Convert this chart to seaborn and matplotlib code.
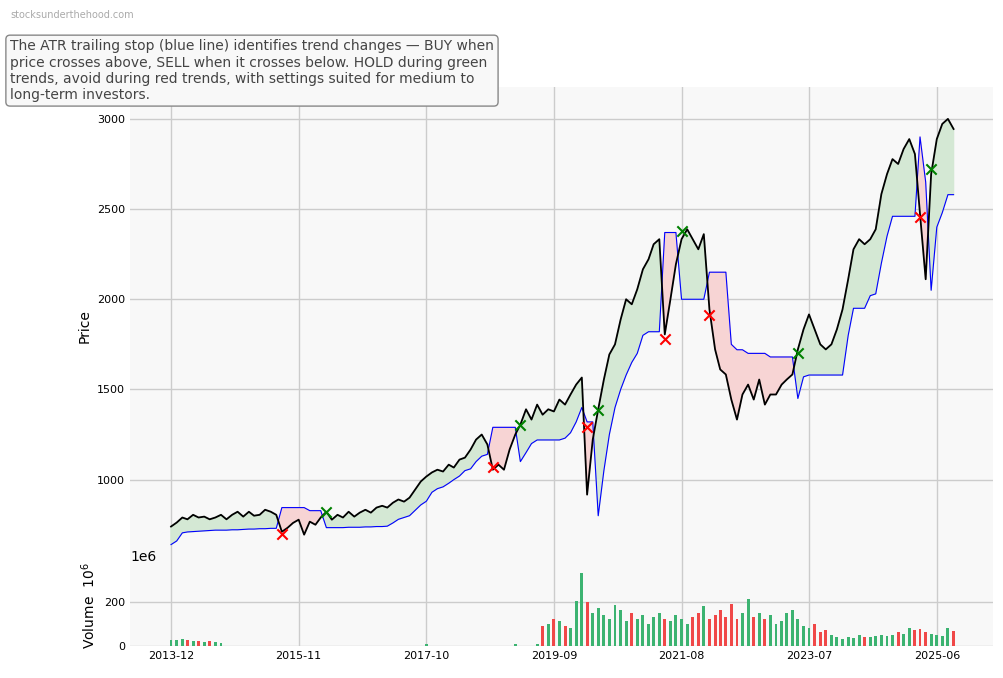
import numpy as np
import pandas as pd
import matplotlib
matplotlib.use("Agg")
import matplotlib.pyplot as plt
import seaborn as sns

start_month = "2013-12-01"
price = [740,762,790,780,805,790,795,780,790,805,780,805,822,795,822,800,805,833,822,805,
         711,733,760,778,695,767,750,790,822,778,805,790,822,795,817,833,817,845,855,845,
         872,890,878,900,945,990,1017,1040,1055,1045,1083,1067,1111,1122,1167,1222,1250,1195,1055,1083,
         1055,1167,1250,1305,1390,1333,1416,1360,1390,1378,1444,1416,1472,1527,1566,917,1222,1390,1555,1694,
         1750,1888,2000,1972,2055,2166,2222,2305,2333,1805,2000,2194,2333,2388,2333,2277,2361,1944,1722,1611,
         1583,1444,1333,1472,1527,1444,1555,1416,1472,1472,1527,1555,1583,1722,1833,1916,1833,1750,1722,1750,
         1833,1944,2111,2277,2333,2305,2333,2388,2583,2694,2777,2750,2833,2888,2805,2472,2111,2694,2888,2972,
         3000,2944]
stop = [640,660,705,710,712,714,716,718,720,720,720,722,722,724,726,726,728,728,730,730,
        845,845,845,845,845,828,828,828,734,734,734,734,736,736,736,738,738,740,740,742,
        760,780,790,800,830,860,880,930,950,960,980,1000,1020,1050,1060,1100,1130,1140,1290,1290,
        1290,1290,1290,1100,1150,1200,1220,1220,1220,1220,1220,1230,1260,1320,1400,1320,1320,800,1050,1250,
        1400,1500,1580,1650,1700,1800,1820,1820,1820,2370,2370,2370,2000,2000,2000,2000,2000,2150,2150,2150,
        2150,1750,1720,1720,1700,1700,1700,1700,1680,1680,1680,1680,1680,1450,1570,1580,1580,1580,1580,1580,
        1580,1580,1800,1950,1950,1950,2020,2030,2200,2350,2460,2460,2460,2460,2460,2900,2650,2050,2400,2480,
        2580,2580]
volume_m = [25,28,30,25,22,20,18,20,15,10] + [0]*36 + [6] + [0]*15 + [6,0,0,0,8] + \
    [90,100,120,110,90,80,205,330,200,150,170,140,120,185,160,110,150,120,140,100,
     130,150,120,110,140,120,100,130,150,180,120,140,160,130,190,120,150,210,130,150,
     120,140,100,110,150,160,120,90,80,100,60,70,50,40,30,40,35,50,40,40,
     45,50,45,50,60,55,80,70,75,60,55,50,45,80,65]
sell_idx = [20, 58, 75, 89, 97, 135]
sell_val = [700, 1070, 1290, 1780, 1910, 2455]
buy_idx = [28, 63, 77, 92, 113, 137]
buy_val = [822, 1305, 1385, 2380, 1700, 2720]
tick_labels = ["2013-12", "2015-11", "2017-10", "2019-09", "2021-08", "2023-07", "2025-06"]

n = len(price)
dates = pd.date_range(start_month, periods=n, freq="MS")
df = pd.DataFrame({"date": dates, "price": price, "stop": stop, "vol": np.array(volume_m[:n]) * 1e6})

fig = plt.figure(figsize=(10.04, 6.78), dpi=100)
bg = "#f8f8f8"
ax = fig.add_axes([0.1295, 0.167, 0.8595, 0.705])
axv = fig.add_axes([0.1295, 0.047, 0.8595, 0.119], sharex=ax)
for a in (ax, axv):
    a.set_facecolor(bg)
    for s in a.spines.values():
        s.set_visible(False)
    a.grid(True, color="#cccccc", lw=1)
    a.set_axisbelow(True)
    a.tick_params(length=0, labelsize=8)

p = np.array(price, float); s = np.array(stop, float)
ax.fill_between(dates, p, s, where=p >= s, interpolate=True, color="#d4e8d4")
ax.fill_between(dates, p, s, where=p < s, interpolate=True, color="#f7d4d4")
sns.lineplot(data=df, x="date", y="stop", ax=ax, color="blue", lw=0.8)
sns.lineplot(data=df, x="date", y="price", ax=ax, color="black", lw=1.3)
ax.scatter(dates[sell_idx], sell_val, marker="x", color="red", s=55, lw=1.5, zorder=5)
ax.scatter(dates[buy_idx], buy_val, marker="x", color="green", s=55, lw=1.5, zorder=5)
ax.set_ylim(528, 3178)
ax.set_yticks([1000, 1500, 2000, 2500, 3000])
ax.set_ylabel("Price", fontsize=10)
ax.set_xlabel("")
ax.tick_params(axis="x", labelbottom=False)

up = np.r_[True, p[1:] >= p[:-1]]
axv.bar(dates, df["vol"], width=16, color=np.where(up, "#3cb371", "#f04848"))
axv.set_ylim(-2e6, 364e6)
axv.set_yticks([0, 200e6])
axv.set_yticklabels(["0", "200"])
axv.set_ylabel("Volume  $10^6$", fontsize=10)
axv.text(0.001, 1.02, "1e6", transform=axv.transAxes, fontsize=10, va="bottom")

tdates = pd.to_datetime(tick_labels)
axv.set_xticks(tdates)
axv.set_xticklabels(tick_labels)
axv.set_xlim(pd.Timestamp("2013-04-20"), pd.Timestamp("2026-04-05"))
axv.set_xlabel("")

fig.text(0.01, 0.985, "stocksunderthehood.com", fontsize=7, color="#aaaaaa", va="top")
fig.text(0.01, 0.942,
         "The ATR trailing stop (blue line) identifies trend changes — BUY when\n"
         "price crosses above, SELL when it crosses below. HOLD during green\n"
         "trends, avoid during red trends, with settings suited for medium to\n"
         "long-term investors.",
         fontsize=10, color="#444444", va="top", linespacing=1.2,
         bbox=dict(boxstyle="round,pad=0.3", fc="#f8f8f8", ec="#888888"))
fig.savefig("out.png", dpi=100)
